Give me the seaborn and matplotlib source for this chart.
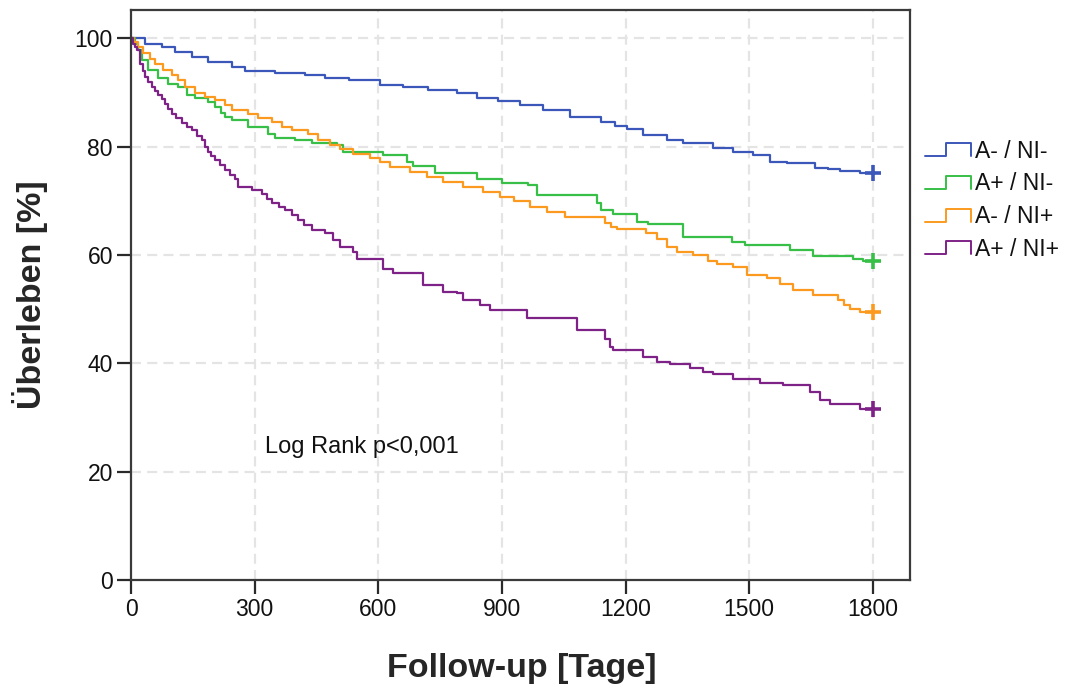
import numpy as np
import pandas as pd
import matplotlib
matplotlib.use("Agg")
import matplotlib.pyplot as plt
from matplotlib.lines import Line2D
from matplotlib.legend_handler import HandlerBase
import seaborn as sns

# Kaplan-Meier survival estimates (days, percent) per group
groups = ["A- / NI-", "A+ / NI-", "A- / NI+", "A+ / NI+"]

t_a_neg_ni_neg = [0, 34, 75, 107, 148, 187, 245, 277, 349, 422, 471, 530, 604, 660, 720, 790,
                  839, 890, 944, 1000, 1065, 1140, 1175, 1203, 1243, 1300, 1340, 1413, 1461,
                  1510, 1550, 1591, 1660, 1690, 1720, 1769, 1800]
s_a_neg_ni_neg = [100, 99.0, 98.4, 97.5, 96.5, 95.6, 94.7, 94.0, 93.5, 93.2, 92.6, 92.2, 91.3,
                  90.9, 90.4, 89.8, 88.9, 88.4, 87.6, 86.7, 85.5, 84.6, 83.8, 83.3, 82.1, 81.2,
                  80.6, 79.8, 79.0, 78.4, 77.2, 76.9, 76.1, 75.8, 75.5, 75.1, 75.1]

t_a_pos_ni_neg = [0, 10, 17, 27, 41, 66, 90, 114, 135, 155, 187, 204, 218, 228, 245, 284, 333,
                  349, 398, 439, 500, 515, 611, 670, 684, 738, 839, 900, 963, 985, 1131, 1140,
                  1169, 1228, 1255, 1340, 1458, 1490, 1599, 1655, 1752, 1776, 1800]
s_a_pos_ni_neg = [100, 98.9, 97.8, 95.9, 94.1, 92.6, 91.6, 91.0, 89.5, 88.9, 88.3, 87.3, 86.2,
                  85.5, 84.9, 83.6, 82.4, 81.5, 81.2, 80.6, 80.3, 79.0, 78.4, 77.2, 76.4, 75.1,
                  74.1, 73.2, 72.9, 71.0, 69.5, 68.3, 67.5, 66.1, 65.7, 63.3, 62.4, 61.8, 61.0,
                  59.8, 59.2, 58.8, 58.8]

t_a_neg_ni_pos = [0, 8, 17, 29, 46, 58, 78, 99, 114, 131, 155, 180, 204, 228, 245, 284, 308,
                  342, 366, 391, 430, 454, 483, 507, 539, 580, 604, 628, 677, 718, 757, 806,
                  854, 895, 930, 968, 1009, 1053, 1150, 1165, 1179, 1250, 1276, 1300, 1325,
                  1364, 1400, 1422, 1461, 1494, 1543, 1575, 1607, 1655, 1715, 1730, 1744,
                  1770, 1800]
s_a_neg_ni_pos = [100, 99.3, 98.4, 97.2, 96.2, 95.3, 94.1, 93.2, 92.3, 91.0, 89.8, 89.2, 88.6,
                  87.6, 86.7, 86.1, 85.2, 84.6, 83.6, 83.0, 82.4, 81.2, 80.3, 79.6, 78.7, 77.8,
                  77.2, 76.3, 75.3, 74.4, 73.5, 72.6, 71.6, 70.7, 70.0, 68.9, 68.0, 67.0, 65.9,
                  65.2, 64.8, 64.0, 63.0, 61.5, 60.6, 60.0, 58.8, 58.3, 57.8, 56.3, 55.7, 54.7,
                  53.5, 52.6, 51.6, 50.8, 50.0, 49.4, 49.4]

t_a_pos_ni_pos = [0, 5, 10, 15, 22, 28, 34, 42, 51, 58, 66, 74, 82, 90, 99, 110, 124, 136,
                  148, 160, 172, 180, 187, 195, 204, 215, 228, 240, 252, 260, 294, 318, 330,
                  342, 358, 374, 390, 405, 420, 439, 471, 490, 507, 539, 548, 611, 636, 708,
                  757, 791, 806, 847, 871, 961, 1082, 1150, 1162, 1169, 1243, 1276, 1308,
                  1356, 1388, 1413, 1461, 1526, 1582, 1648, 1672, 1696, 1769, 1800]
s_a_pos_ni_pos = [100, 99.0, 98.4, 97.8, 95.3, 94.0, 92.9, 92.0, 91.0, 90.2, 89.5, 88.7, 87.9,
                  87.0, 86.1, 85.2, 84.3, 83.6, 83.0, 82.0, 81.2, 80.0, 79.0, 78.2, 77.5, 76.6,
                  75.6, 74.8, 74.1, 72.6, 72.0, 71.3, 70.4, 69.5, 68.9, 68.3, 67.3, 66.4, 65.5,
                  64.6, 64.1, 62.7, 61.5, 60.6, 59.3, 57.5, 56.6, 54.4, 53.2, 52.9, 51.7, 50.7,
                  49.8, 48.3, 46.1, 44.5, 43.1, 42.4, 41.1, 40.3, 39.9, 39.1, 38.4, 38.1, 37.2,
                  36.3, 36.0, 34.7, 33.2, 32.5, 31.6, 31.6]

times = [t_a_neg_ni_neg, t_a_pos_ni_neg, t_a_neg_ni_pos, t_a_pos_ni_pos]
survival = [s_a_neg_ni_neg, s_a_pos_ni_neg, s_a_neg_ni_pos, s_a_pos_ni_pos]
colors = ["#3b57b9", "#37bf48", "#fb9a1e", "#7e2287"]

x_ticks = [0, 300, 600, 900, 1200, 1500, 1800]
y_ticks = [0, 20, 40, 60, 80, 100]

rows = []
for g, ts, ss in zip(groups, times, survival):
    for t, s in zip(ts, ss):
        rows.append({"group": g, "days": t, "surv": s})
df = pd.DataFrame(rows)

sns.set_theme(style="white")
plt.rcParams["font.family"] = ["Liberation Sans", "DejaVu Sans"]

fig = plt.figure(figsize=(10.68, 6.89), dpi=100)
ax = fig.add_axes([0.1227, 0.158, 0.852 - 0.1227, 0.9855 - 0.158])

sns.lineplot(data=df, x="days", y="surv", hue="group", hue_order=groups,
             palette=colors, drawstyle="steps-post", estimator=None, sort=False,
             linewidth=1.6, legend=False, ax=ax)

# censoring marks at end of follow-up
for ts, ss, c in zip(times, survival, colors):
    ax.plot(ts[-1], ss[-1], marker="+", markersize=11, markeredgewidth=2.6,
            color=c, linestyle="none", zorder=5)

ax.set_xlim(0, 1890)
ax.set_ylim(0, 105.2)
ax.set_xticks(x_ticks)
ax.set_yticks(y_ticks)
ax.set_xticklabels([str(v) for v in x_ticks])
ax.set_yticklabels([str(v) for v in y_ticks])

for v in x_ticks[1:]:
    ax.axvline(v, color="#e4e4e4", lw=1.6, linestyle=(0, (4.5, 2.8)), zorder=0)
for v in y_ticks[1:]:
    ax.axhline(v, color="#e4e4e4", lw=1.6, linestyle=(0, (4.5, 2.8)), zorder=0)

for side in ["left", "bottom", "top", "right"]:
    ax.spines[side].set_visible(True)
    ax.spines[side].set_color("#3a3a3a")
    ax.spines[side].set_linewidth(1.6)

ax.tick_params(axis="both", which="major", direction="out", length=10, width=1.6,
               color="#2a2a2a", labelsize=16.5, labelcolor="#111111", pad=3,
               bottom=True, left=True)

ax.set_xlabel("Follow-up [Tage]", fontsize=24.5, fontweight="bold")
ax.set_ylabel("Überleben [%]", fontsize=24.5, fontweight="bold")
ax.xaxis.set_label_coords(0.502, -0.155)
ax.xaxis.label.set_va("center")
ax.yaxis.set_label_coords(-0.130, 0.5)
ax.yaxis.label.set_va("center")

ax.text(325, 24.5, "Log Rank p<0,001", fontsize=17, color="#111111", va="center", ha="left")


class StepHandler(HandlerBase):
    def create_artists(self, legend, orig_handle, xdescent, ydescent, width, height,
                       fontsize, trans):
        xs = np.array([0.0, 0.45, 0.45, 1.0, 1.0]) * width - xdescent
        ys = np.array([0.1, 0.1, 0.9, 0.9, 0.1]) * height - ydescent
        line = Line2D(xs, ys, color=orig_handle.get_color(), lw=1.4)
        line.set_transform(trans)
        return [line]


handles = [Line2D([], [], color=c) for c in colors]
leg = fig.legend(handles, groups, loc="upper left", bbox_to_anchor=(0.866, 0.797),
                 frameon=False, fontsize=16.5, handlelength=2.0, handletextpad=0.2,
                 labelspacing=0.42, borderpad=0, borderaxespad=0,
                 handler_map={Line2D: StepHandler()})
for txt in leg.get_texts():
    txt.set_color("#111111")

fig.savefig("out.png", dpi=100)
